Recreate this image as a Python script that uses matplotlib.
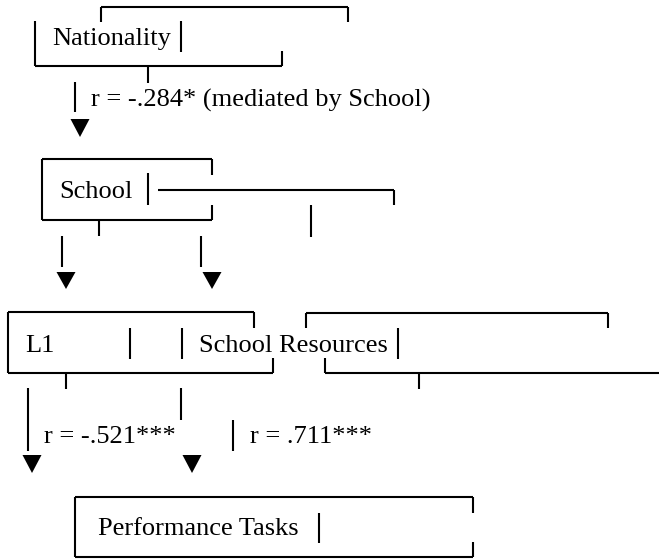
import matplotlib
matplotlib.use("Agg")
import matplotlib.pyplot as plt
from matplotlib.patches import Polygon

# ---- content (labels / values) ----
node_labels = ["Nationality", "School", "L1", "School Resources", "Performance Tasks"]
corr_values = [-0.284, -0.521, 0.711]
corr_stars = ["*", "***", "***"]
corr_notes = [" (mediated by School)", "", ""]


def fmt_r(v, stars, note):
    s = f"{v:.3f}".replace("0.", ".")
    return f"r = {s}{stars}{note}"


corr_labels = [fmt_r(v, s, n) for v, s, n in zip(corr_values, corr_stars, corr_notes)]

# ---- figure in pixel coordinates ----
W, H = 659, 559
fig = plt.figure(figsize=(W / 100, H / 100), dpi=100)
ax = fig.add_axes([0, 0, 1, 1])
ax.set_xlim(0, W)
ax.set_ylim(H, 0)
ax.axis("off")

FONT = dict(family=["Liberation Serif", "DejaVu Serif"], fontsize=19, color="black",
            va="baseline", ha="left")
LW = 1.5


def seg(x0, y0, x1, y1):
    ax.plot([x0, x1], [y0, y1], color="black", lw=LW, solid_capstyle="butt")


def tri(cx, top, bottom, w=19):
    ax.add_patch(Polygon([(cx - w / 2, top), (cx + w / 2, top), (cx, bottom)],
                         closed=True, color="black", lw=0))


# Nationality block
seg(101, 7, 348, 7); seg(101, 7, 101, 22); seg(348, 7, 348, 22)
seg(35, 21, 35, 66); seg(35, 66, 282, 66); seg(282, 51, 282, 66)
seg(181, 21, 181, 52)
seg(148, 66, 148, 83)
ax.text(52, 45, node_labels[0], **FONT)
seg(75, 82, 75, 112)
ax.text(91, 107, corr_labels[0], **FONT)
tri(80, 119, 137)

# School block
seg(42, 159, 212, 159); seg(42, 159, 42, 220); seg(42, 220, 212, 220)
seg(212, 159, 212, 175); seg(212, 205, 212, 220)
ax.text(59, 198, node_labels[1], **FONT)
seg(148, 173, 148, 205)
seg(158, 190, 394, 190); seg(394, 190, 394, 205)
seg(311, 205, 311, 237)
seg(99, 220, 99, 236)
seg(62, 236, 62, 267); seg(201, 236, 201, 267)
tri(66, 272, 289); tri(212, 272, 289)

# L1 / School Resources row
seg(8, 312, 254, 312); seg(254, 312, 254, 328)
seg(8, 312, 8, 373); seg(8, 373, 273, 373); seg(273, 358, 273, 373)
ax.text(25, 352, node_labels[2], **FONT)
seg(130, 328, 130, 359); seg(182, 328, 182, 359)
ax.text(199, 352, node_labels[3], **FONT)
seg(398, 328, 398, 359)
seg(306, 313, 608, 313); seg(306, 313, 306, 328); seg(608, 313, 608, 328)
seg(325, 373, 659, 373); seg(325, 358, 325, 373)
seg(66, 373, 66, 389); seg(419, 373, 419, 389)
seg(28, 388, 28, 451); seg(181, 388, 181, 420)
ax.text(44, 443, corr_labels[1], **FONT)
seg(233, 420, 233, 451)
ax.text(250, 443, corr_labels[2], **FONT)
tri(32, 455, 473); tri(192, 455, 473)

# Performance Tasks block
seg(75, 497, 473, 497); seg(75, 497, 75, 557); seg(75, 557, 473, 557)
seg(473, 497, 473, 513); seg(473, 542, 473, 557)
ax.text(98, 535, node_labels[4], **FONT)
seg(319, 513, 319, 543)

fig.savefig("out.png", dpi=100, facecolor="white")
